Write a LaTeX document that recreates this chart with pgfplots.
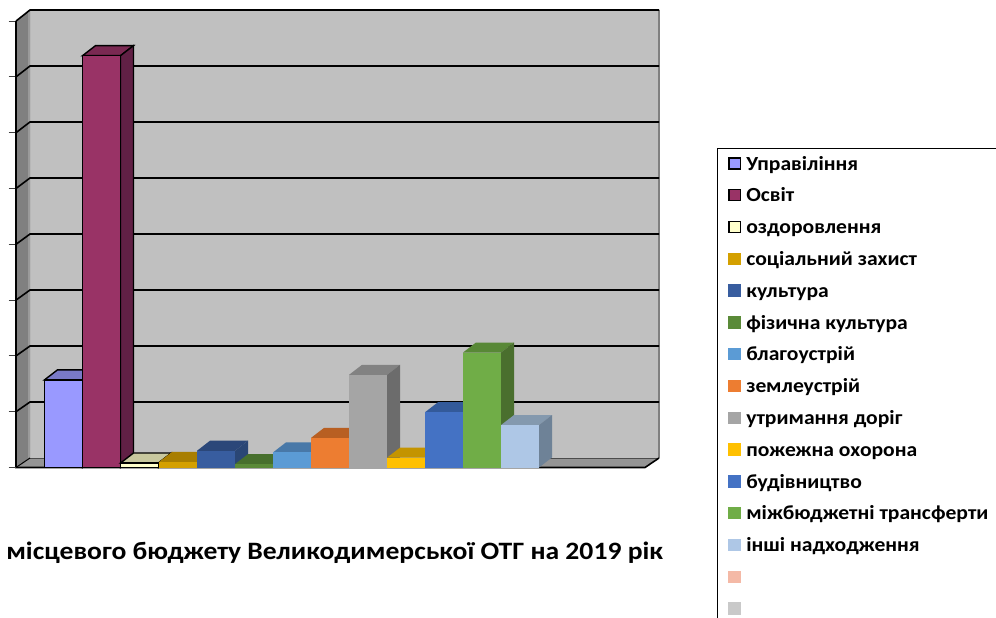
\documentclass[border=0pt]{standalone}
\usepackage{fontspec}
\setmainfont{Carlito}
\newfontfamily\legfont[FakeStretch=1.08]{Carlito}
\newfontfamily\titfont[FakeStretch=1.105]{Carlito}
\usepackage{pgfplots}
\pgfplotsset{compat=1.18}
\definecolor{wallback}{HTML}{C0C0C0}
\definecolor{wallleft}{HTML}{808080}
\definecolor{wallfloor}{HTML}{959595}
\definecolor{af}{HTML}{9999FF}\definecolor{at}{HTML}{7A7AC8}\definecolor{as}{HTML}{5F5FA0}
\definecolor{bf}{HTML}{993366}\definecolor{bt}{HTML}{7A2952}\definecolor{bs}{HTML}{612045}
\definecolor{cf}{HTML}{FFFFCC}\definecolor{ct}{HTML}{C8C89E}\definecolor{cs}{HTML}{A0A080}
\definecolor{df}{HTML}{D4A000}\definecolor{dt}{HTML}{A87E00}\definecolor{ds}{HTML}{8A6800}
\definecolor{ef}{HTML}{385D9F}\definecolor{et}{HTML}{2B4779}\definecolor{es}{HTML}{2A4675}
\definecolor{ff}{HTML}{5A8A38}\definecolor{ft}{HTML}{476F2D}\definecolor{fs}{HTML}{3C5E26}
\definecolor{gf}{HTML}{5B9BD5}\definecolor{gt}{HTML}{4878A8}\definecolor{gs}{HTML}{3F6A94}
\definecolor{hf}{HTML}{ED7D31}\definecolor{ht}{HTML}{B85F22}\definecolor{hs}{HTML}{A0531E}
\definecolor{if}{HTML}{A5A5A5}\definecolor{it}{HTML}{828282}\definecolor{is}{HTML}{6C6C6C}
\definecolor{jf}{HTML}{FFC000}\definecolor{jt}{HTML}{C49400}\definecolor{js}{HTML}{A67D00}
\definecolor{kf}{HTML}{4472C4}\definecolor{kt}{HTML}{335A9A}\definecolor{ks}{HTML}{2D4F88}
\definecolor{lf}{HTML}{70AD47}\definecolor{lt}{HTML}{588836}\definecolor{ls}{HTML}{4A6F2E}
\definecolor{mf}{HTML}{AEC7E6}\definecolor{mt}{HTML}{8499AE}\definecolor{ms}{HTML}{6E8297}
\definecolor{nf}{HTML}{F4B9A6}\definecolor{of}{HTML}{C9C9C9}
\pgfplotsset{
  sw/.style={legend image code/.code={\draw[##1,line width=1.4pt] (0pt,-5.5pt) rectangle (11.5pt,5.5pt);}},
  swn/.style={legend image code/.code={\fill[##1] (-0.7pt,-6.2pt) rectangle (12.2pt,6.2pt);}},
}
% x centre (px), value, colour stem, outline options, swatch style, label
\newcommand{\bard}[6]{%
  \pgfmathsetmacro\xa{#1-19}%
  \pgfmathsetmacro\xb{#1+19}%
  \pgfmathsetmacro\xc{#1+32}%
  \pgfmathsetmacro\xd{#1-6}%
  \pgfmathsetmacro\yt{#2+0.18}%
  \addplot[fill=#3t,#4,forget plot] coordinates {(\xa,#2)(\xb,#2)(\xc,\yt)(\xd,\yt)} -- cycle;
  \addplot[fill=#3s,#4,forget plot] coordinates {(\xb,0)(\xc,0.18)(\xc,\yt)(\xb,#2)} -- cycle;
  \addplot[ybar,bar width=38pt,bar shift=0pt,fill=#3f,#4,#5] coordinates {(#1,#2)};
  \addlegendentry{\strut #6}%
}
\newcommand{\gl}[2]{%
  \addplot[black,line width=1.6pt,forget plot] coordinates {(16,#1)(30,#2)(659,#2)};
  \addplot[black!75,line width=1pt,forget plot] coordinates {(8.5,#1)(16,#1)};
}
\begin{document}
\begin{tikzpicture}
\clip (0,0) rectangle (996pt,618pt);
\begin{axis}[
  at={(0,0)},anchor=south west,
  scale only axis,width=996pt,height=618pt,
  xmin=0,xmax=996,ymin=-2.697,ymax=8.378,
  hide axis,clip=false,
  legend cell align=left,
  legend style={
    at={(axis cs:717,5.726)},anchor=north west,
    draw=black,line width=0.8pt,
    font=\bfseries\legfont\fontsize{20}{21}\selectfont,
    row sep=15.6pt,
    inner xsep=11pt,inner ysep=7pt,
    nodes={inner sep=0pt,outer sep=0pt},
    /tikz/every odd column/.append style={column sep=5pt},
  },
]
% walls and floor
\addplot[fill=wallback,draw=none,forget plot] coordinates {(30,0.17)(659,0.17)(659,8.2)(30,8.2)} -- cycle;
\addplot[fill=wallleft,draw=none,forget plot] coordinates {(16,0)(30,0.17)(30,8.2)(16,8)} -- cycle;
\addplot[fill=wallfloor,draw=none,forget plot] coordinates {(16,0)(645,0)(659,0.17)(30,0.17)} -- cycle;
\addplot[wallleft!60!wallback,line width=2pt,forget plot] coordinates {(29,0.17)(29,8.2)};
\addplot[wallleft,line width=1.6pt,forget plot] coordinates {(659,0.17)(659,8.2)};
\addplot[black!70,line width=1pt,forget plot] coordinates {(30,0.17)(659,0.17)};
\gl{1}{1.174}
\gl{2}{2.177}
\gl{3}{3.181}
\gl{4}{4.184}
\gl{5}{5.188}
\gl{6}{6.192}
\gl{7}{7.195}
\gl{8}{8.199}
\addplot[black,line width=1.6pt,forget plot] coordinates {(16,8)(16,0)(645,0)(659,0.17)};
\addplot[black,line width=1pt,forget plot] coordinates {(16,0)(30,0.17)};
\addplot[black!75,line width=1pt,forget plot] coordinates {(8.5,0)(16,0)};
% bars
\bard{63.5}{1.57}{a}{draw=black,line width=1.4pt}{sw}{\makebox[300pt][l]{Управіління}}
\bard{101.5}{7.38}{b}{draw=black,line width=1.4pt}{sw}{Освіт}
\bard{139.5}{0.08}{c}{draw=black,line width=1.4pt}{sw}{оздоровлення}
\bard{178}{0.10}{d}{draw=none}{swn}{соціальний захист}
\bard{216}{0.30}{e}{draw=none}{swn}{культура}
\bard{254}{0.06}{f}{draw=none}{swn}{фізична культура}
\bard{292}{0.27}{g}{draw=none}{swn}{благоустрій}
\bard{330}{0.53}{h}{draw=none}{swn}{землеустрій}
\bard{368}{1.66}{i}{draw=none}{swn}{утримання доріг}
\bard{406}{0.175}{j}{draw=none}{swn}{пожежна охорона}
\bard{444}{0.99}{k}{draw=none}{swn}{будівництво}
\bard{482}{2.06}{l}{draw=none}{swn}{міжбюджетні трансферти}
\bard{520}{0.76}{m}{draw=none}{swn}{інші надходження}
\addlegendimage{fill=nf,draw=none,swn}
\addlegendentry{\strut}
\addlegendimage{fill=of,draw=none,swn}
\addlegendentry{\strut}
\node[anchor=east,font=\bfseries\titfont\fontsize{25}{26}\selectfont] at (axis cs:666.5,-1.52) {місцевого бюджету Великодимерської ОТГ на 2019 рік};
\end{axis}
\end{tikzpicture}
\end{document}
